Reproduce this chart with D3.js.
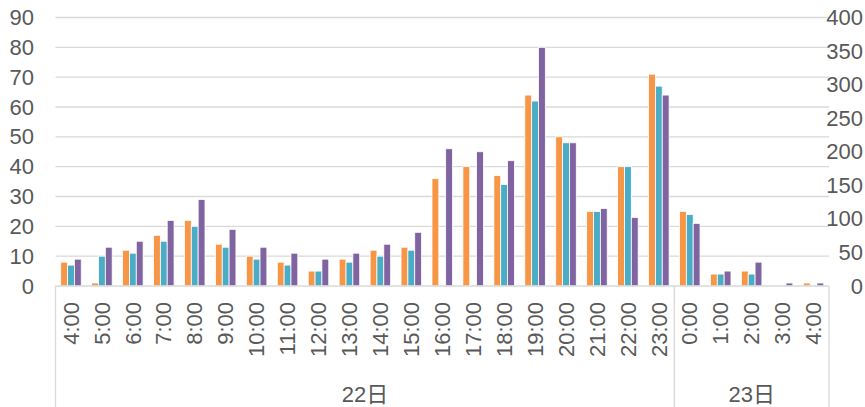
<!DOCTYPE html>
<html>
<head>
<meta charset="utf-8">
<script src="https://cdn.jsdelivr.net/npm/d3@7"></script>
<style>
  body { margin: 0; background: #fff; }
  svg text { font-family: "Liberation Sans", Arial, "Noto Sans CJK JP", sans-serif; fill: #595959; }
</style>
</head>
<body>
<svg id="chart" width="865" height="407"></svg>
<script>
// hours along the bottom, grouped by day
var hours = ["4:00","5:00","6:00","7:00","8:00","9:00","10:00","11:00","12:00","13:00",
             "14:00","15:00","16:00","17:00","18:00","19:00","20:00","21:00","22:00","23:00",
             "0:00","1:00","2:00","3:00","4:00"];
var days = [{label: "22日", from: 0, to: 20}, {label: "23日", from: 20, to: 25}];

var orangeVals = [8,1,12,17,22,14,10,8,5,9,12,13,36,40,37,64,50,25,40,71,25,4,5,0,1];
var tealVals   = [7,10,11,15,20,13,9,7,5,8,10,12,0,0,34,62,48,25,40,67,24,4,4,0,0];
var purpleVals = [9,13,15,22,29,19,13,11,9,11,14,18,46,45,42,80,48,26,23,64,21,5,8,1,1];

var leftTicks = [0,10,20,30,40,50,60,70,80,90];
var rightTicks = [0,50,100,150,200,250,300,350,400];

var series = [
  {name: "a", color: "#F79646", values: orangeVals},
  {name: "b", color: "#4BACC6", values: tealVals},
  {name: "c", color: "#8064A2", values: purpleVals}
];

var svg = d3.select("#chart");
var plotLeft = 55.5, plotRight = 829, plotTop = 17.5, plotBottom = 286;

var x = d3.scaleBand().domain(d3.range(hours.length)).range([plotLeft, plotRight]).padding(0);
var xInner = d3.scaleBand().domain(series.map(function(s){ return s.name; }))
  .range([0, x.bandwidth()]).paddingInner(0).paddingOuter(0.76);
var y = d3.scaleLinear().domain([0, 90]).range([plotBottom, plotTop]);
var yRight = d3.scaleLinear().domain([0, 400]).range([plotBottom, plotTop]);

function xEdge(i) { return i < hours.length ? x(i) : plotRight; }

// gridlines
svg.append("g").selectAll("line")
  .data(leftTicks.slice(1)).enter()
  .append("line")
  .attr("x1", plotLeft).attr("x2", plotRight)
  .attr("y1", function(d){ return y(d); }).attr("y2", function(d){ return y(d); })
  .attr("stroke", "#d9d9d9").attr("stroke-width", 1.3);

// bars
series.forEach(function(s){
  svg.append("g").selectAll("rect")
    .data(s.values.map(function(v, i){ return {i: i, v: v}; }).filter(function(d){ return d.v > 0; }))
    .enter().append("rect")
    .attr("x", function(d){ return x(d.i) + xInner(s.name); })
    .attr("width", xInner.bandwidth())
    .attr("y", function(d){ return y(d.v); })
    .attr("height", function(d){ return y(0) - y(d.v); })
    .attr("fill", s.color)
    .attr("stroke", "#fff").attr("stroke-width", 0.8);
});

// baseline + day separators
svg.append("line").attr("x1", plotLeft).attr("x2", plotRight).attr("y1", plotBottom).attr("y2", plotBottom)
  .attr("stroke", "#d9d9d9").attr("stroke-width", 1.3);
svg.append("g").selectAll("line").data([0, 20, 25]).enter()
  .append("line")
  .attr("x1", xEdge).attr("x2", xEdge)
  .attr("y1", plotBottom).attr("y2", 407)
  .attr("stroke", "#d9d9d9").attr("stroke-width", 1.3);

// left axis
var yAxis = d3.axisLeft(y).tickValues(leftTicks).tickSize(0).tickPadding(0);
svg.append("g").attr("transform", "translate(34,0)").call(yAxis)
  .call(function(g){ g.select(".domain").remove(); })
  .selectAll("text").style("font-size", "22px").attr("fill", "#595959");

// right axis
var yAxisR = d3.axisLeft(yRight).tickValues(rightTicks).tickSize(0).tickPadding(0);
svg.append("g").attr("transform", "translate(863,0)").call(yAxisR)
  .call(function(g){ g.select(".domain").remove(); })
  .selectAll("text").style("font-size", "22px").attr("fill", "#595959");

// hour labels
svg.append("g").selectAll("text")
  .data(hours).enter()
  .append("text")
  .attr("transform", function(d, i){ return "translate(" + (x(i) + x.bandwidth() / 2) + ",302) rotate(-90)"; })
  .attr("text-anchor", "end")
  .attr("dy", "0.35em")
  .style("font-size", "22px")
  .text(function(d){ return d; });

// day labels
svg.append("g").selectAll("text")
  .data(days).enter()
  .append("text")
  .attr("x", function(d){ return (xEdge(d.from) + xEdge(d.to)) / 2; })
  .attr("y", 402)
  .attr("text-anchor", "middle")
  .style("font-size", "22px")
  .text(function(d){ return d.label; });
</script>
</body>
</html>
